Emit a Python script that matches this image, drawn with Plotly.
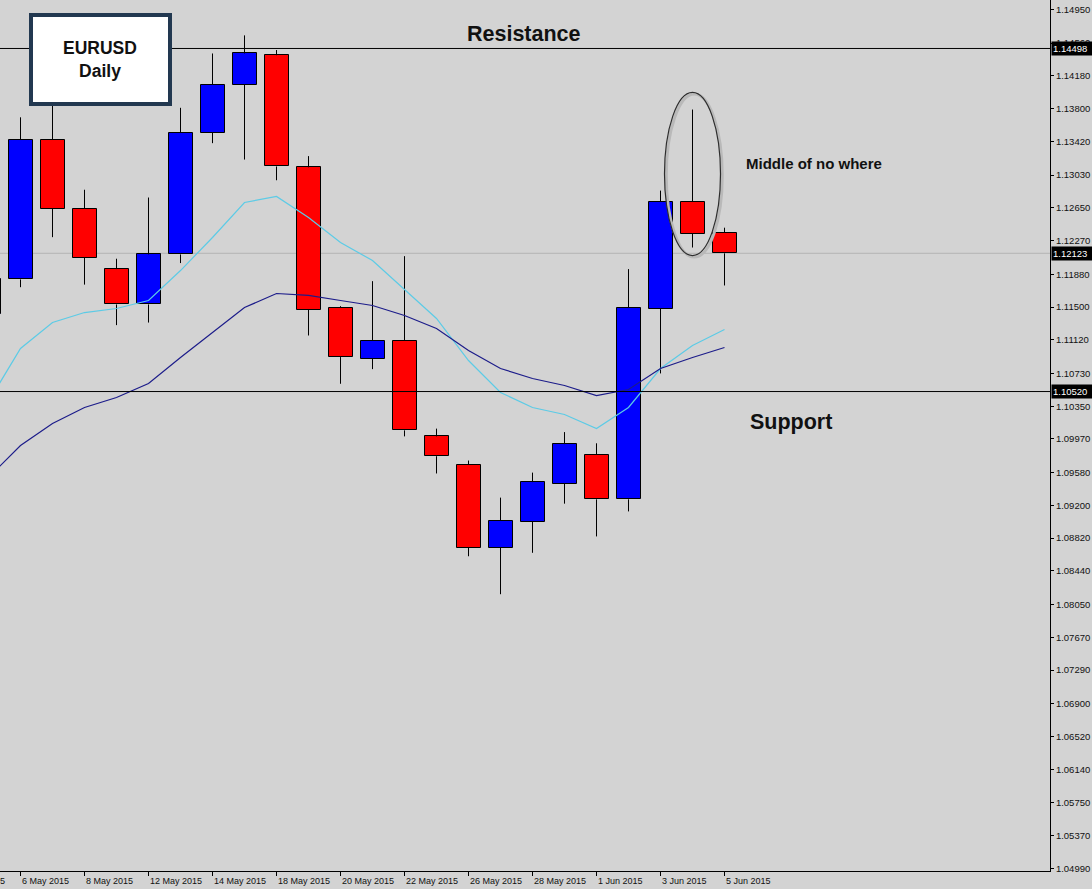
import pandas as pd
import plotly.graph_objects as go

# ---------------- data ----------------
sessions = [f"{d.day} {d.strftime('%b %Y')}" for d in pd.bdate_range("2015-05-04", "2015-06-05")]

dates = ["5 May 2015", "6 May 2015", "7 May 2015", "8 May 2015", "11 May 2015", "12 May 2015",
         "13 May 2015", "14 May 2015", "15 May 2015", "18 May 2015", "19 May 2015", "20 May 2015",
         "21 May 2015", "22 May 2015", "25 May 2015", "26 May 2015", "27 May 2015", "28 May 2015",
         "29 May 2015", "1 Jun 2015", "2 Jun 2015", "3 Jun 2015", "4 Jun 2015", "5 Jun 2015"]
opens = [1.1142, 1.1182, 1.1344, 1.1264, 1.1194, 1.1153, 1.1211, 1.1352, 1.1408, 1.1442, 1.1312, 1.1149,
         1.1090, 1.1111, 1.1000, 1.0967, 1.0871, 1.0901, 1.0945, 1.0979, 1.0927, 1.1148, 1.1272, 1.1236]
highs = [1.1207, 1.1370, 1.1391, 1.1286, 1.1206, 1.1277, 1.1381, 1.1444, 1.1465, 1.1448, 1.1325, 1.1151,
         1.1180, 1.1209, 1.1009, 1.0972, 1.0929, 1.0958, 1.1005, 1.0992, 1.1194, 1.1285, 1.1379, 1.1242]
lows = [1.1100, 1.1173, 1.1231, 1.1176, 1.1129, 1.1132, 1.1201, 1.1340, 1.1321, 1.1297, 1.1117, 1.1061,
        1.1078, 1.1000, 1.0957, 1.0861, 1.0817, 1.0865, 1.0922, 1.0884, 1.0913, 1.1073, 1.1219, 1.1175]
closes = [1.1182, 1.1344, 1.1264, 1.1207, 1.1153, 1.1211, 1.1352, 1.1408, 1.1444, 1.1313, 1.1147, 1.1092,
          1.1111, 1.1007, 1.0977, 1.0871, 1.0902, 1.0947, 1.0991, 1.0927, 1.1149, 1.1272, 1.1235, 1.12123]
ma_fast = [1.10404, 1.11019, 1.11321, 1.11436, 1.11483, 1.11576, 1.11923, 1.12306, 1.12712, 1.12782,
           1.12538, 1.12248, 1.12039, 1.11703, 1.11367, 1.10880, 1.10509, 1.10335, 1.10254, 1.10091,
           1.10335, 1.10787, 1.11054, 1.11239]
ma_slow = [1.09523, 1.09894, 1.10149, 1.10335, 1.10451, 1.10613, 1.10915, 1.11205, 1.11494, 1.11657,
           1.11634, 1.11576, 1.11518, 1.11402, 1.11251, 1.10996, 1.10787, 1.10671, 1.10590, 1.10474,
           1.10544, 1.10787, 1.10915, 1.11031]
tick_labels = ["4 May 2015", "6 May 2015", "8 May 2015", "12 May 2015", "14 May 2015", "18 May 2015",
               "20 May 2015", "22 May 2015", "26 May 2015", "28 May 2015", "1 Jun 2015", "3 Jun 2015",
               "5 Jun 2015"]
price_ticks = [1.14950, 1.14560, 1.14180, 1.13800, 1.13420, 1.13030, 1.12650, 1.12270, 1.11880, 1.11500,
               1.11120, 1.10730, 1.10350, 1.09970, 1.09580, 1.09200, 1.08820, 1.08440, 1.08050, 1.07670,
               1.07290, 1.06900, 1.06520, 1.06140, 1.05750, 1.05370, 1.04990]
resistance = 1.14498
support = 1.10520
last_price = 1.12123

# ---------------- build ----------------
xs = [sessions.index(d) for d in dates]
tick_x = [sessions.index(t) for t in tick_labels]

BG = "#d3d3d3"
UP = "#0000ff"
DOWN = "#ff0000"

body_base = [min(o, c) for o, c in zip(opens, closes)]
body_h = [abs(c - o) for o, c in zip(opens, closes)]
body_col = [UP if c >= o else DOWN for o, c in zip(opens, closes)]

wx, wy = [], []
for x, o, h, l, c in zip(xs, opens, highs, lows, closes):
    top, bot = max(o, c), min(o, c)
    wx += [x, x, None, x, x, None]
    wy += [h, top, None, bot, l, None]

fig = go.Figure()
fig.add_trace(go.Bar(x=xs, y=body_h, base=body_base, width=0.75,
                     marker=dict(color=body_col, line=dict(color="black", width=1)),
                     hoverinfo="skip", showlegend=False))
fig.add_trace(go.Scatter(x=wx, y=wy, mode="lines", line=dict(color="black", width=1),
                         hoverinfo="skip", showlegend=False))
fig.add_trace(go.Scatter(x=xs, y=ma_fast, mode="lines", line=dict(color="#5ccbe6", width=1.2),
                         hoverinfo="skip", showlegend=False))
fig.add_trace(go.Scatter(x=xs, y=ma_slow, mode="lines", line=dict(color="#1c1c8a", width=1.2),
                         hoverinfo="skip", showlegend=False))

PLOT_W, PLOT_H = 1050, 871
PX_PER_UNIT = 8624.0
x_lo = xs[0] + 0.375 - 0.5 / 32
x_hi = x_lo + PLOT_W / 32
y_hi = price_ticks[0] + 9.5 / PX_PER_UNIT
y_lo = y_hi - PLOT_H / PX_PER_UNIT


def xpaper(v):
    return (v - x_lo) / (x_hi - x_lo)


shapes = [
    dict(type="line", xref="paper", x0=0, x1=1, yref="y", y0=last_price, y1=last_price,
         line=dict(color="#b4b4b4", width=1), layer="below"),
    dict(type="line", xref="paper", x0=0, x1=1, yref="y", y0=resistance, y1=resistance,
         line=dict(color="black", width=1), layer="above"),
    dict(type="line", xref="paper", x0=0, x1=1, yref="y", y0=support, y1=support,
         line=dict(color="black", width=1), layer="above"),
]
# ellipse around the 4 Jun candle
k = dates.index("4 Jun 2015")
shapes.append(dict(type="circle", xref="x", yref="y", x0=xs[k] - 0.82, x1=xs[k] + 0.93,
                   y0=lows[k] - 0.0011, y1=highs[k] + 0.0018,
                   line=dict(color="#b9b9b9", width=3), layer="above"))
shapes.append(dict(type="circle", xref="x", yref="y", x0=xs[k] - 0.875, x1=xs[k] + 0.875,
                   y0=lows[k] - 0.00093, y1=highs[k] + 0.00198,
                   line=dict(color="#2e2e2e", width=1.2), layer="above"))
# title box
shapes.append(dict(type="rect", xref="paper", yref="paper", x0=31 / PLOT_W, x1=170 / PLOT_W,
                   y0=(PLOT_H - 104) / PLOT_H, y1=(PLOT_H - 15) / PLOT_H,
                   line=dict(color="#223850", width=4), fillcolor="white", layer="above"))

ann = []
for t, x in zip(tick_labels, tick_x):
    ann.append(dict(x=xpaper(x), y=0, xref="paper", yref="paper", text=t, showarrow=False,
                    xanchor="left", yanchor="top", yshift=-3, xshift=-1,
                    font=dict(family="Liberation Sans", size=9, color="#111")))
for lvl in [resistance, last_price, support]:
    ann.append(dict(x=1, xref="paper", y=lvl, yref="y", text=f"{lvl:.5f}", showarrow=False,
                    xanchor="left", yanchor="middle", xshift=1, bgcolor="black", borderpad=1,
                    width=38, align="left",
                    font=dict(family="Liberation Sans", size=9.5, color="white")))
ann += [
    dict(x=523.5 / PLOT_W, y=(PLOT_H - 34) / PLOT_H, xref="paper", yref="paper", text="Resistance",
         showarrow=False, xanchor="center", yanchor="middle",
         font=dict(family="Liberation Sans", size=21.5, color="#111", weight="bold")),
    dict(x=790.5 / PLOT_W, y=(PLOT_H - 422) / PLOT_H, xref="paper", yref="paper", text="Support",
         showarrow=False, xanchor="center", yanchor="middle",
         font=dict(family="Liberation Sans", size=21.5, color="#111", weight="bold")),
    dict(x=744 / PLOT_W, y=(PLOT_H - 163) / PLOT_H, xref="paper", yref="paper", text="Middle of no where",
         showarrow=False, xanchor="left", yanchor="middle",
         font=dict(family="Liberation Sans", size=15, color="#111", weight="bold")),
    dict(x=100 / PLOT_W, y=(PLOT_H - 59.5) / PLOT_H, xref="paper", yref="paper", text="EURUSD<br>Daily",
         showarrow=False, xanchor="center", yanchor="middle",
         font=dict(family="Liberation Sans", size=17.5, color="#111", weight="bold")),
]

fig.update_layout(
    width=1092, height=889,
    margin=dict(l=0, r=1092 - PLOT_W, t=0, b=889 - PLOT_H, pad=0),
    paper_bgcolor=BG, plot_bgcolor=BG,
    barmode="overlay", bargap=0,
    shapes=shapes, annotations=ann,
    xaxis=dict(range=[x_lo, x_hi], showgrid=False, zeroline=False, showline=True,
               linecolor="black", linewidth=1, ticks="outside", ticklen=4, tickcolor="black",
               tickvals=tick_x, showticklabels=False, fixedrange=True),
    yaxis=dict(range=[y_lo, y_hi], side="right", showgrid=False, zeroline=False, showline=True,
               linecolor="black", linewidth=1, ticks="outside", ticklen=3, tickcolor="black",
               tickvals=price_ticks, ticktext=[f"{v:.5f}" for v in price_ticks],
               tickfont=dict(family="Liberation Sans", size=9.5, color="#111"), fixedrange=True),
    hovermode=False,
)

fig.write_html("out.html", config={"displayModeBar": False},
               post_script="document.body.style.margin='0';")
